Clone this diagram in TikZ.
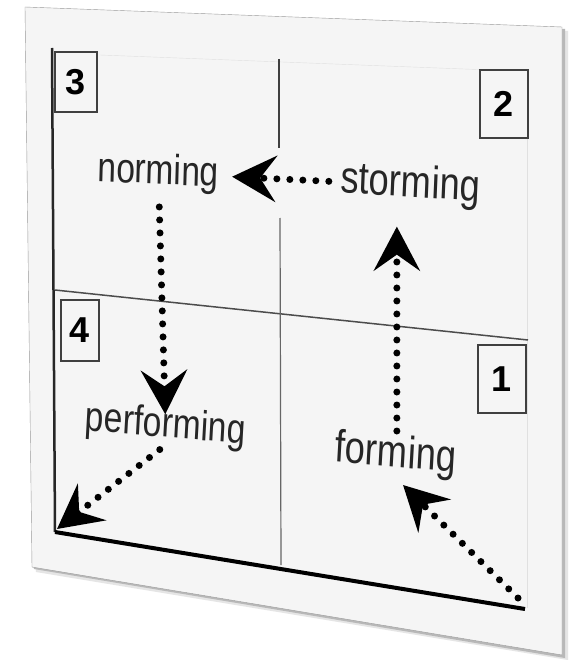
\documentclass[tikz,border=0pt]{standalone}
\usepackage{fontspec}
\setmainfont{Liberation Sans}
\usetikzlibrary{arrows.meta}
\tikzset{
  stage/.style={font=\fontsize{42}{48}\selectfont, text=black!85, inner sep=0pt, xscale=0.8, anchor=base},
  numbox/.style={draw=black!75, line width=2pt, inner sep=0pt, font=\fontsize{36}{40}\selectfont\bfseries},
  flow/.style={line width=7pt, line cap=round, dash pattern=on 0pt off 13pt,
    -{Stealth[length=44pt,width=46pt,inset=16pt]}},
}
\begin{document}
\begin{tikzpicture}[x=1pt,y=-1pt]
  \useasboundingbox (0,0) rectangle (569,660);
  \fill[white] (0,0) rectangle (569,660);
  \fill[black!10] (29,12)--(568,31)--(568,660)--(36,572)--cycle;
  \fill[black!28] (27,9)--(565,29)--(565,658)--(34,569)--cycle;
  \filldraw[fill=black!4,draw=black!40] (25,7)--(562,27)--(562,655)--(32,567)--cycle;
  \draw[black!12] (100,55)--(490,70);
  \draw[black!12] (527,75)--(527,608);
  \draw[line width=2.5pt,black!85] (52,48)--(55,532);
  \draw[line width=4pt] (55,532)--(525,609);
  \draw[line width=1.5pt,black!70] (55,290)--(528,340);
  \draw[line width=2pt,black!75] (279,59)--(279,148);
  \draw[line width=1.2pt,black!60] (280,218)--(281,565);
  \coordinate (origin) at (57,529);
  \coordinate (corner) at (518,598);
  \node[numbox,minimum width=42pt,minimum height=60pt] (three) at (76,82) {3};
  \node[numbox,minimum width=48pt,minimum height=68pt] (two) at (504,104) {2};
  \node[numbox,minimum width=38pt,minimum height=61pt] (four) at (80,330) {4};
  \node[numbox,minimum width=48pt,minimum height=68pt] (one) at (502,379) {1};
  \node[stage,rotate=-2] (norming) at (158,184) {norming};
  \node[stage,rotate=-3,scale=1.08] (storming) at (410,197) {storming};
  \node[stage,rotate=-4] (performing) at (165,437) {performing};
  \node[stage,rotate=-4,scale=1.08] (forming) at (395,467) {forming};
  \draw[flow,shorten <=12pt,shorten >=13pt] (storming) -- (norming);
  \draw[flow,shorten <=14pt,shorten >=-8pt] (norming) -- (performing);
  \draw[flow,shorten <=3pt,shorten >=20pt] (forming.north) -- (forming.north |- storming.south);
  \draw[flow,shorten <=6pt] (performing.south) -- (origin);
  \draw[flow,shorten >=12pt] (corner) -- (forming.south);
\end{tikzpicture}
\end{document}
